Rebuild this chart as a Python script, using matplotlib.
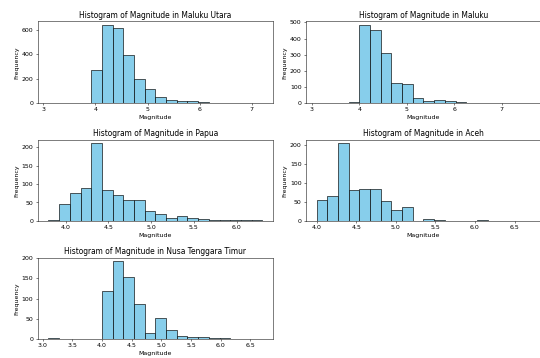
import numpy as np
import matplotlib
matplotlib.use('Agg')
from matplotlib import pyplot as plt

# bin counts (20 bins each, between min and max magnitude)
regions = ['Maluku Utara', 'Maluku', 'Papua', 'Aceh', 'Nusa Tenggara Timur']
mag_min = [3.1, 3.1, 3.8, 4.0, 3.1]
mag_max = [7.2, 7.6, 6.3, 6.7, 6.7]

maluku_utara = [3, 0, 0, 3, 275, 640, 620, 395, 195, 115,
                50, 25, 15, 12, 5, 2, 1, 1, 1, 2]
maluku = [0, 0, 0, 3, 482, 450, 313, 125, 120, 28,
          12, 17, 10, 4, 1, 1, 1, 1, 1, 1]
papua = [2, 47, 77, 90, 210, 85, 69, 57, 57, 27,
         20, 9, 13, 8, 5, 2, 2, 2, 2, 2]
aceh = [55, 65, 205, 83, 84, 84, 53, 30, 37, 0,
        5, 2, 0, 1, 1, 2, 1, 1, 0, 1]
ntt = [2, 0, 0, 0, 0, 120, 192, 153, 87, 15,
       53, 22, 8, 5, 5, 2, 3, 1, 1, 1]
counts = [maluku_utara, maluku, papua, aceh, ntt]

fig, axes = plt.subplots(3, 2, figsize=(12, 7.956), dpi=45)
plt.subplots_adjust(left=0.070, right=1.002, bottom=0.053, top=0.940,
                    wspace=0.14, hspace=0.45)
axes = axes.flatten()

for i, region in enumerate(regions):
    ax = axes[i]
    edges = np.linspace(mag_min[i], mag_max[i], 21)
    centers = (edges[:-1] + edges[1:]) / 2
    ax.hist(centers, bins=edges, weights=counts[i],
            color='skyblue', edgecolor='black')
    ax.set_title(f'Histogram of Magnitude in {region}')
    ax.set_xlabel('Magnitude')
    ax.set_ylabel('Frequency')

fig.delaxes(axes[5])
plt.savefig('out.png')
